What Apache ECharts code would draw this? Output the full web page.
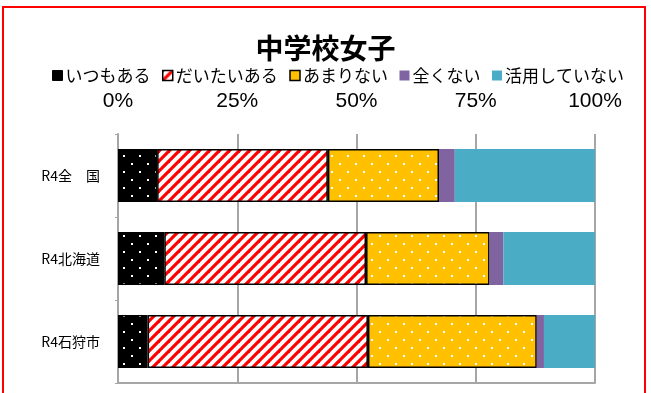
<!DOCTYPE html>
<html><head><meta charset="utf-8">
<script src="https://cdn.jsdelivr.net/npm/echarts@6/dist/echarts.min.js"></script>
<style>html,body{margin:0;padding:0;background:#fff}#c{width:651px;height:393px}</style>
</head><body><div id="c"></div>
<script>
const titleText = '中学校女子';
const categories = ['R4全　国', 'R4北海道', 'R4石狩市'];
const seriesNames = ['いつもある', 'だいたいある', 'あまりない', '全くない', '活用していない'];
const itsumo = [8.2, 9.7, 6.2];
const daitai = [35.8, 42.3, 46.2];
const amari = [23.3, 25.9, 35.4];
const mattaku = [3.3, 2.9, 1.5];
const katsuyou = [29.4, 19.2, 10.7];
const tickLabels = ['0%', '25%', '50%', '75%', '100%'];

function dotPattern(bg) {
  const c = document.createElement('canvas');
  c.width = 16; c.height = 16;
  const g = c.getContext('2d');
  g.fillStyle = bg; g.fillRect(0, 0, 16, 16);
  g.fillStyle = '#ffffff';
  g.fillRect(3, 3, 2, 2);
  g.fillRect(11, 11, 2, 2);
  return { image: c, repeat: 'repeat' };
}
function stripePattern() {
  const c = document.createElement('canvas');
  c.width = 10; c.height = 10;
  const g = c.getContext('2d');
  g.fillStyle = '#ffffff'; g.fillRect(0, 0, 10, 10);
  g.strokeStyle = '#ff0000'; g.lineWidth = 3.2;
  [[-5, 5, 5, -5], [0, 10, 10, 0], [5, 15, 15, 5]].forEach(l => {
    g.beginPath(); g.moveTo(l[0], l[1]); g.lineTo(l[2], l[3]); g.stroke();
  });
  return { image: c, repeat: 'repeat' };
}

const dataSets = [itsumo, daitai, amari, mattaku, katsuyou];
const styles = [
  { color: dotPattern('#000000'), borderColor: '#000', borderWidth: 1.5 },
  { color: stripePattern(), borderColor: '#000', borderWidth: 1.5 },
  { color: dotPattern('#FFC000'), borderColor: '#000', borderWidth: 1.5 },
  { color: '#8064A2', borderWidth: 0 },
  { color: '#4BACC6', borderWidth: 0 }
];
const legendStyles = [
  { color: '#000000', borderColor: '#000', borderWidth: 1 },
  { color: stripePattern(), borderColor: '#000', borderWidth: 1.5 },
  { color: '#FFC000', borderColor: '#000', borderWidth: 1.5 },
  { color: '#8064A2', borderWidth: 0 },
  { color: '#4BACC6', borderWidth: 0 }
];

const chart = echarts.init(document.getElementById('c'), null, { renderer: 'canvas' });
const FONT = '"Noto Sans CJK JP", "Noto Sans", sans-serif';
chart.setOption({
  animation: false,
  backgroundColor: '#ffffff',
  title: {
    text: titleText, left: 'center', top: 29,
    textStyle: { fontSize: 28, fontWeight: 'bold', color: '#000', fontFamily: FONT }
  },
  legend: {
    data: seriesNames.map((n, i) => ({ name: n, itemStyle: legendStyles[i] })),
    top: 62, left: 47, icon: 'rect',
    itemWidth: 10, itemHeight: 10, itemGap: 11.5,
    textStyle: { fontSize: 17, color: '#000', fontFamily: FONT, padding: [0, 0, 0, -2] }
  },
  grid: { left: 118, right: 56, top: 134, bottom: 10, containLabel: false },
  xAxis: [{
    type: 'value', position: 'top', min: 0, max: 100, interval: 25,
    axisLine: { show: false },
    axisTick: { show: false },
    splitLine: { show: true, lineStyle: { color: '#A6A6A6', width: 2 } },
    axisLabel: {
      margin: 22, fontSize: 21, color: '#000', fontFamily: '"Liberation Sans", Arial, sans-serif',
      formatter: v => tickLabels[Math.round(v / 25)]
    }
  }, {
    type: 'value', position: 'bottom', min: 0, max: 100,
    axisLine: { show: true, lineStyle: { color: '#A6A6A6', width: 2 } },
    axisTick: { show: false }, axisLabel: { show: false }, splitLine: { show: false }
  }],
  yAxis: {
    type: 'category', data: categories, inverse: true,
    axisLine: { show: true, lineStyle: { color: '#A6A6A6', width: 2 } },
    axisTick: { show: true, length: 3, lineStyle: { color: '#A6A6A6', width: 1 } },
    axisLabel: { margin: 18, fontSize: 14, color: '#000', fontFamily: FONT }
  },
  series: seriesNames.map((n, i) => ({
    name: n, type: 'bar', stack: 'total', xAxisIndex: 0,
    barWidth: 53, data: dataSets[i], itemStyle: styles[i],
    emphasis: { disabled: true }
  })),
  graphic: [{
    type: 'rect', shape: { x: 3, y: 7, width: 642, height: 420 },
    style: { fill: 'none', stroke: '#ff0000', lineWidth: 2 }, z: 100
  }]
});
</script>
</body></html>
